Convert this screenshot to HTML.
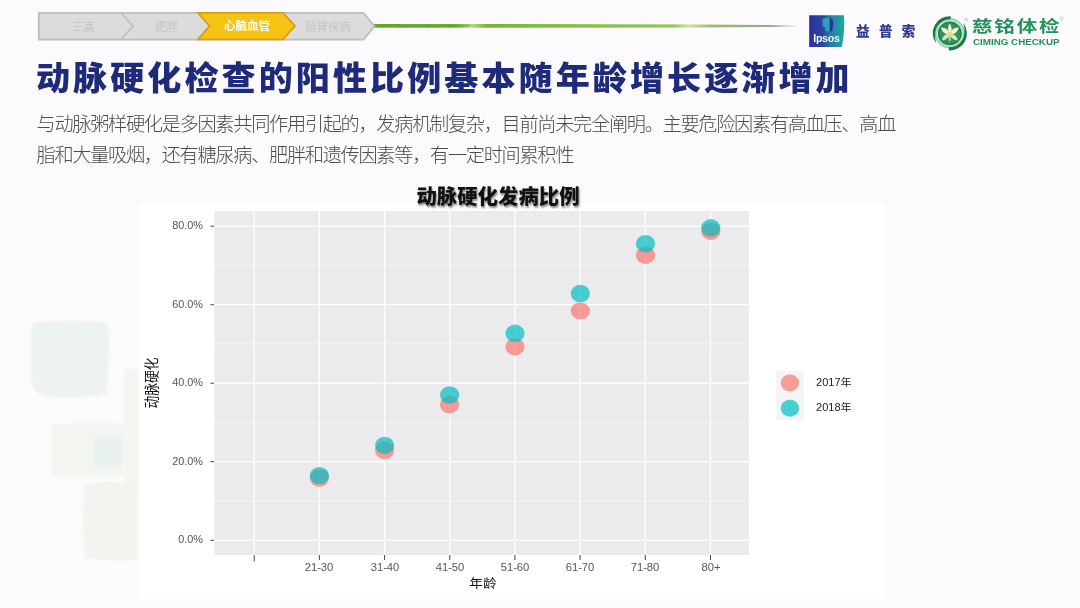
<!DOCTYPE html>
<html lang="zh-CN">
<head>
<meta charset="utf-8">
<title>动脉硬化检查的阳性比例基本随年龄增长逐渐增加</title>
<style>
html,body{margin:0;padding:0;}
body{width:1080px;height:608px;overflow:hidden;background:#fcfafd;position:relative;
  font-family:"Liberation Sans","Noto Sans CJK SC",sans-serif;}
.abs{position:absolute;white-space:nowrap;}
#bgsvg{position:absolute;left:0;top:0;}
#h1{left:36.4px;top:55px;font-size:33.5px;line-height:48px;font-weight:900;color:#1e2a7a;letter-spacing:3px;transform:scaleX(1.017);transform-origin:0 0;
  font-family:"Liberation Sans","Noto Sans CJK SC",sans-serif;}
.sub{left:36.5px;font-size:19.2px;line-height:30px;color:#4c4c4c;font-weight:300;letter-spacing:-1.3px;}
#sub1{top:110px;}
#sub2{top:141px;}
.nav{font-size:11.5px;line-height:16px;color:#c4c4c4;text-align:center;transform:translateX(-50%);}
#nav3{color:#fff;font-weight:700;}
#ctitle{left:498.2px;top:182.7px;transform:translateX(-50%) scaleX(1.02);font-size:20px;line-height:28px;font-weight:900;color:#111;
  text-shadow:1px 1.5px 2px rgba(0,0,0,.45);}
.yl{font-size:10.5px;line-height:14px;color:#555;text-align:right;width:60px;left:143px;transform:scaleX(1.035);transform-origin:100% 50%;}
.xl{font-size:10.5px;line-height:14px;color:#555;transform:translateX(-50%) scaleX(1.07);top:559.8px;}
#xt{left:482.8px;top:575.3px;transform:translateX(-50%) scaleX(1.09);font-size:12.5px;line-height:18px;color:#111;}
#yt{left:152.3px;top:382.5px;transform:translate(-50%,-50%) rotate(-90deg) scaleX(.885);font-size:14.4px;line-height:16px;color:#111;}
.lg{left:816px;font-size:10.5px;line-height:14px;color:#222;transform:scaleX(1.05);transform-origin:0 50%;}
#ips{left:813.2px;top:32.2px;font-size:10.6px;line-height:13px;font-weight:700;color:#eefcff;letter-spacing:-.25px;}
#yps{left:856px;top:22px;font-size:13.5px;line-height:20px;font-weight:900;color:#2f3b8e;letter-spacing:9.4px;}
#cm1{left:972.2px;top:15.3px;font-size:16.4px;line-height:22px;font-weight:700;color:#22935a;letter-spacing:1.5px;
  transform:scaleX(1.25);transform-origin:0 0;
  font-family:"Liberation Sans","Noto Sans CJK SC",sans-serif;}
#cm2{left:973px;top:36.2px;font-size:9.8px;line-height:12px;font-weight:700;color:#26905a;}
#reg{left:1059.8px;top:15.5px;font-size:5px;line-height:7px;color:#7fbf9c;}
</style>
</head>
<body>
<svg id="bgsvg" width="1080" height="608" viewBox="0 0 1080 608">
  <defs>
    <filter id="soft" x="-5%" y="-5%" width="110%" height="110%"><feGaussianBlur stdDeviation="1.1"/></filter>
    <linearGradient id="gl" x1="0" x2="1" y1="0" y2="0">
      <stop offset="0" stop-color="#69a832"/>
      <stop offset=".2" stop-color="#70b035"/>
      <stop offset=".235" stop-color="#b6dc78"/>
      <stop offset=".27" stop-color="#74b638"/>
      <stop offset=".5" stop-color="#84c240"/>
      <stop offset=".71" stop-color="#8fc94b"/>
      <stop offset=".745" stop-color="#cfe29a"/>
      <stop offset=".8" stop-color="#97bb74"/>
      <stop offset=".94" stop-color="#93a68a"/>
      <stop offset="1" stop-color="#b0b8ac" stop-opacity=".2"/>
    </linearGradient>
    <linearGradient id="ip" x1="0" x2="1" y1="0" y2="0">
      <stop offset="0" stop-color="#2b3199"/>
      <stop offset=".38" stop-color="#2c44a3"/>
      <stop offset=".64" stop-color="#2382a9"/>
      <stop offset="1" stop-color="#1aaa9f"/>
    </linearGradient>
  </defs>
  <!-- faint watercolor blocks on the left -->
  <g filter="url(#soft)">
    <path d="M36 322 Q70 319 104 322 Q109 324 108.5 334 Q109 366 107 394 Q72 400 44 396 Q32 392 31.5 378 Q30 350 32 326 Q33 322 36 322Z" fill="#edf3f0"/>
    <path d="M52 425 Q90 420 124 424 L124 476 Q86 480 53 476 Q50 450 52 425Z" fill="#f3f6f0"/>
    <path d="M93 439 Q108 436 122 439 L122 466 Q106 469 93 466Z" fill="#e9f1ee"/>
    <path d="M85 484 Q110 480 139 483 L139 560 Q110 562 85 558 Q81 520 85 484Z" fill="#f2f5ef"/>
    <path d="M124.5 369 L139 369 L139 484 L124.5 484Z" fill="#f3f6f0"/>
  </g>
  <!-- chart white card -->
  <rect x="139" y="203" width="746" height="396" fill="#ffffff"/>
  <!-- green line -->
  <path d="M372 23.9 L700 24.4 L797 25.2 L797 26.7 L700 27.4 L372 27.8Z" fill="url(#gl)"/>
  <path d="M378 25.2 L400 24.8 M396 26.6 L430 25.6 M426 26.8 L452 25.4 M448 26.4 L470 25.2" stroke="#5a962a" stroke-width=".9" fill="none" opacity=".7"/>
  <!-- nav chevrons -->
  <g stroke-linejoin="miter">
    <path d="M38.8 12.8 H363.5 L374.5 26.2 L363.5 39.6 H38.8Z" fill="#dcdcdc" stroke="#bcbcbc" stroke-width="1.8"/>
    <path d="M121.5 13.5 L133 26.2 L121.5 39" fill="none" stroke="#c4c4c4" stroke-width="2"/>
    <path d="M198 12.8 H283 L295 26 L283 39.4 H198 L209.5 26Z" fill="#f8c414" stroke="#d3a017" stroke-width="1.8"/>
  </g>
  <!-- chart panel -->
  <g id="panel">
    <rect x="214.4" y="211" width="534.4" height="344" fill="#ebeaec"/>
    <g stroke="#ffffff" stroke-width=".7" opacity=".8">
      <path d="M214.4 265.3H748.8M214.4 343.9H748.8M214.4 422.4H748.8M214.4 501H748.8"/>
    </g>
    <g stroke="#ffffff" stroke-width="1.3">
      <path d="M214.4 226.2H748.8M214.4 304.7H748.8M214.4 383.2H748.8M214.4 461.7H748.8M214.4 540.3H748.8"/>
      <path d="M254.2 211V555M319.4 211V555M384.6 211V555M449.8 211V555M514.9 211V555M580.1 211V555M645.3 211V555M710.5 211V555"/>
    </g>
    <g stroke="#444" stroke-width="1">
      <path d="M210.5 226.2H214M210.5 304.7H214M210.5 383.2H214M210.5 461.7H214M210.5 540.3H214"/>
      <path d="M254.2 555V561.5M319.4 555V560M384.6 555V560M449.8 555V560M514.9 555V560M580.1 555V560M645.3 555V560M710.5 555V560"/>
    </g>
    <g fill="#f8766d" fill-opacity=".7">
      <ellipse cx="319.4" cy="478" rx="9.6" ry="8.7"/>
      <ellipse cx="384.6" cy="450.3" rx="9.6" ry="8.7"/>
      <ellipse cx="449.6" cy="404.5" rx="9.6" ry="8.7"/>
      <ellipse cx="515" cy="346.7" rx="9.6" ry="8.7"/>
      <ellipse cx="580.3" cy="310.9" rx="9.6" ry="8.7"/>
      <ellipse cx="645.5" cy="255.2" rx="9.6" ry="8.7"/>
      <ellipse cx="710.8" cy="231.2" rx="9.6" ry="8.7"/>
    </g>
    <g fill="#00bfc4" fill-opacity=".7">
      <ellipse cx="319.4" cy="475.6" rx="9.6" ry="8.7"/>
      <ellipse cx="384.6" cy="445.4" rx="9.6" ry="8.7"/>
      <ellipse cx="449.6" cy="395" rx="9.6" ry="8.7"/>
      <ellipse cx="515" cy="333.3" rx="9.6" ry="8.7"/>
      <ellipse cx="580.3" cy="293.5" rx="9.6" ry="8.7"/>
      <ellipse cx="645.5" cy="243.7" rx="9.6" ry="8.7"/>
      <ellipse cx="710.8" cy="227.8" rx="9.6" ry="8.7"/>
    </g>
  </g>
  <!-- legend -->
  <rect x="776.3" y="370.6" width="27.3" height="49.4" fill="#f4f4f6"/>
  <ellipse cx="789.9" cy="383" rx="9.2" ry="8.5" fill="#f8766d" fill-opacity=".7"/>
  <ellipse cx="789.9" cy="408.3" rx="9.2" ry="8.5" fill="#00bfc4" fill-opacity=".7"/>
  <!-- Ipsos logo -->
  <g id="ipsos">
    <path d="M809.2 15.2 H844 Q845.2 31 841.7 47 H809.2Z" fill="url(#ip)"/>
    <path d="M822.6 19.2 Q826.5 17.4 830.2 18 L830.2 31.8 Q826.8 31.6 825.2 30.2 L825.4 27.8 Q821.6 26 822.8 23.6 Q821.6 21.4 822.6 19.2Z" fill="#27a3b4"/>
    <path d="M829.6 18 Q833 18.6 833.3 23.4 Q833.5 28 831.6 31.6 L829.6 31.8Z" fill="#2a3497"/>
  </g>
  <!-- Ciming logo -->
  <g id="ciming">
    <circle cx="949.8" cy="33.3" r="13.6" fill="none" stroke="#a2e0bd" stroke-width="2.6"/>
    <circle cx="949.8" cy="33.3" r="14.9" fill="none" stroke="#5dbb86" stroke-width=".5"/>
    <path d="M950.8 16.2 A17 17 0 0 0 936.2 43.5 Q934.8 39 935.2 33.3 A14.8 14.8 0 0 1 950.8 19.3Z" fill="#1c7846"/>
    <path d="M950.8 16.2 A17 17 0 0 0 936.2 43.5 Q934.8 39 935.2 33.3 A14.8 14.8 0 0 1 950.8 19.3Z" fill="#1c7846" transform="rotate(180 949.8 33.3)"/>
    <circle cx="949.8" cy="33.4" r="11.7" fill="#2f9354"/>
    <circle cx="949.8" cy="33.4" r="11.2" fill="none" stroke="#227c47" stroke-width="1.2"/>
    <g fill="#f1f8dc">
      <path d="M949.8 23.6 Q953.6 29 949.8 34 Q946 29 949.8 23.6Z"/>
      <path d="M940.8 27.6 Q947.4 27.2 949.8 34 Q943 35.4 940.8 27.6Z"/>
      <path d="M958.8 27.6 Q952.2 27.2 949.8 34 Q956.6 35.4 958.8 27.6Z"/>
      <path d="M942 40.4 Q942.8 34.2 949.8 33.6 Q949 40 942 40.4Z" opacity=".85"/>
      <path d="M957.6 40.4 Q956.8 34.2 949.8 33.6 Q950.6 40 957.6 40.4Z" opacity=".85"/>
      <path d="M949.8 33.6 Q952 38.4 949.8 42.6 Q947.6 38.4 949.8 33.6Z" opacity=".7"/>
    </g>
    <circle cx="949.8" cy="34" r="2.6" fill="#e8dc7c"/>
    <circle cx="966.2" cy="19.6" r="1.5" fill="none" stroke="#6fae8a" stroke-width=".5"/>
  </g>
</svg>

<div class="abs nav" id="nav1" style="left:83.5px;top:18.5px;">三高</div>
<div class="abs nav" id="nav2" style="left:166.5px;top:18.5px;">肥胖</div>
<div class="abs nav" id="nav3" style="left:247px;top:18px;">心脑血管</div>
<div class="abs nav" id="nav4" style="left:328px;top:18.5px;">肠胃疾病</div>

<div class="abs" id="ips">Ipsos</div>
<div class="abs" id="yps">益普索</div>
<div class="abs" id="cm1">慈铭体检</div>
<div class="abs" id="reg">®</div>
<div class="abs" id="cm2">CIMING CHECKUP</div>

<div class="abs" id="h1">动脉硬化检查的阳性比例基本随年龄增长逐渐增加</div>
<div class="abs sub" id="sub1">与动脉粥样硬化是多因素共同作用引起的，发病机制复杂，目前尚未完全阐明。主要危险因素有高血压、高血</div>
<div class="abs sub" id="sub2">脂和大量吸烟，还有糖尿病、肥胖和遗传因素等，有一定时间累积性</div>

<div class="abs" id="ctitle">动脉硬化发病比例</div>

<div class="abs yl" style="top:218.2px;">80.0%</div>
<div class="abs yl" style="top:296.7px;">60.0%</div>
<div class="abs yl" style="top:375.2px;">40.0%</div>
<div class="abs yl" style="top:453.7px;">20.0%</div>
<div class="abs yl" style="top:532.3px;">0.0%</div>

<div class="abs xl" style="left:319.4px;">21-30</div>
<div class="abs xl" style="left:384.6px;">31-40</div>
<div class="abs xl" style="left:449.8px;">41-50</div>
<div class="abs xl" style="left:514.9px;">51-60</div>
<div class="abs xl" style="left:580.1px;">61-70</div>
<div class="abs xl" style="left:645.3px;">71-80</div>
<div class="abs xl" style="left:711px;">80+</div>

<div class="abs" id="xt">年龄</div>
<div class="abs" id="yt">动脉硬化</div>

<div class="abs lg" style="top:374.8px;">2017年</div>
<div class="abs lg" style="top:400.1px;">2018年</div>
</body>
</html>
